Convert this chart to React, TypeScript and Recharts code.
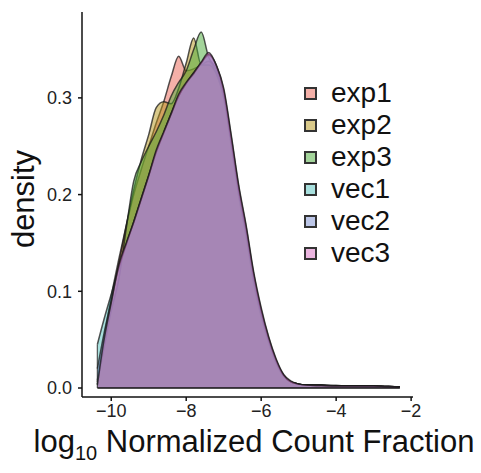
import { AreaChart, Area, XAxis, YAxis, Legend, Label, ReferenceLine } from 'recharts'

const xs = [-10.37, -10.2, -10.0, -9.8, -9.6, -9.4, -9.2, -9.0, -8.8, -8.6, -8.4, -8.2, -8.0, -7.8, -7.6, -7.4, -7.2, -7.0, -6.8, -6.6, -6.4, -6.2, -6.0, -5.8, -5.6, -5.4, -5.2, -5.0, -4.8, -4.4, -4.0, -3.5, -3.0, -2.6, -2.3]

const exp1 = [0.008, 0.05, 0.095, 0.133, 0.168, 0.2, 0.226, 0.25, 0.274, 0.296, 0.322, 0.343, 0.328, 0.33, 0.334, 0.338, 0.326, 0.3, 0.25, 0.198, 0.156, 0.108, 0.073, 0.046, 0.025, 0.012, 0.006, 0.004, 0.003, 0.003, 0.0025, 0.002, 0.002, 0.0015, 0.001]
const exp2 = [0.006, 0.045, 0.09, 0.128, 0.168, 0.205, 0.236, 0.262, 0.29, 0.296, 0.294, 0.31, 0.336, 0.362, 0.334, 0.334, 0.325, 0.3, 0.252, 0.2, 0.158, 0.11, 0.075, 0.048, 0.026, 0.012, 0.006, 0.004, 0.003, 0.003, 0.0025, 0.002, 0.002, 0.0015, 0.001]
const exp3 = [0.004, 0.04, 0.08, 0.112, 0.165, 0.214, 0.234, 0.25, 0.265, 0.282, 0.302, 0.316, 0.328, 0.35, 0.368, 0.342, 0.33, 0.304, 0.256, 0.204, 0.162, 0.115, 0.078, 0.05, 0.028, 0.013, 0.006, 0.004, 0.003, 0.003, 0.002, 0.002, 0.0015, 0.0015, 0.001]
const vec1 = [0.045, 0.07, 0.097, 0.124, 0.148, 0.172, 0.196, 0.22, 0.244, 0.264, 0.284, 0.302, 0.315, 0.326, 0.336, 0.344, 0.333, 0.306, 0.256, 0.205, 0.163, 0.116, 0.079, 0.05, 0.028, 0.013, 0.006, 0.004, 0.003, 0.0025, 0.002, 0.002, 0.002, 0.0015, 0.001]
const vec2 = [0.02, 0.055, 0.09, 0.125, 0.149, 0.171, 0.195, 0.219, 0.244, 0.264, 0.283, 0.302, 0.315, 0.325, 0.336, 0.345, 0.334, 0.308, 0.26, 0.208, 0.166, 0.118, 0.081, 0.052, 0.029, 0.013, 0.006, 0.004, 0.003, 0.0025, 0.002, 0.002, 0.002, 0.0015, 0.001]
const vec3 = [0.003, 0.048, 0.088, 0.127, 0.15, 0.172, 0.196, 0.22, 0.246, 0.265, 0.284, 0.304, 0.316, 0.326, 0.337, 0.347, 0.334, 0.31, 0.262, 0.21, 0.168, 0.12, 0.083, 0.053, 0.03, 0.014, 0.007, 0.004, 0.003, 0.0025, 0.002, 0.002, 0.002, 0.0015, 0.001]

const groups = ['exp1', 'exp2', 'exp3', 'vec1', 'vec2', 'vec3']
const colors = ['#E96151', '#B39315', '#47A935', '#51C1BD', '#7A8ECF', '#D86CBF']
const xTicks = [-10, -8, -6, -4, -2]
const yTicks = [0, 0.1, 0.2, 0.3]

const series = [exp1, exp2, exp3, vec1, vec2, vec3]
const data = xs.map((x, i) => {
  const row: Record<string, number> = { x }
  groups.forEach((g, j) => { row[g] = series[j][i] })
  return row
})

const font = '"Liberation Sans", Arial, Helvetica, sans-serif'

const fmtX = (v: number) => (v < 0 ? '\u2212' + Math.abs(v) : String(v))

function LegendBox() {
  return (
    <div style={{ fontFamily: font, fontSize: 28, color: '#111' }}>
      {groups.map((g, i) => (
        <div key={g} style={{ display: 'flex', alignItems: 'center', height: 32 }}>
          <div style={{ width: 13, height: 13, boxSizing: 'border-box', border: '2px solid #333', background: 'white', position: 'relative', marginRight: 14 }}>
            <div style={{ position: 'absolute', inset: 0, background: colors[i], opacity: 0.5 }} />
          </div>
          <span style={{ lineHeight: '32px' }}>{g}</span>
        </div>
      ))}
    </div>
  )
}

export default function App() {
  const firstMax = Math.max(...series.map(s => s[0]))
  return (
    <div style={{ position: 'absolute', left: 0, top: 0, background: 'white' }}>
      <AreaChart width={481} height={473} data={data} margin={{ top: 12, right: 68, bottom: 0, left: 0 }}>
        <XAxis
          dataKey="x"
          type="number"
          domain={[-10.78, -1.95]}
          allowDataOverflow
          ticks={xTicks}
          tickFormatter={fmtX}
          height={76}
          tickSize={4}
          tickMargin={3}
          stroke="#111"
          strokeWidth={1.5}
          tick={{ fill: '#222', fontSize: 18, fontFamily: font }}
        >
          <Label
            content={() => (
              <text x={254} y={452} textAnchor="middle" fill="#111" fontFamily={font} fontSize={31}>
                <tspan>log</tspan>
                <tspan fontSize={20} dy={8}>10</tspan>
                <tspan dy={-8}> Normalized Count Fraction</tspan>
              </text>
            )}
          />
        </XAxis>
        <YAxis
          type="number"
          domain={[-0.0093, 0.3888]}
          allowDataOverflow
          ticks={yTicks}
          tickFormatter={(v: number) => v.toFixed(1)}
          width={82}
          tickSize={4}
          tickMargin={6}
          stroke="#111"
          strokeWidth={1.5}
          tick={{ fill: '#222', fontSize: 18, fontFamily: font }}
        >
          <Label
            content={() => (
              <text x={34} y={199} transform="rotate(-90 34 199)" textAnchor="middle" fill="#111" fontFamily={font} fontSize={31}>
                density
              </text>
            )}
          />
        </YAxis>
        {groups.map((g, i) => (
          <Area
            key={g}
            dataKey={g}
            type="monotone"
            fill={colors[i]}
            fillOpacity={0.5}
            stroke="#1a1a1a"
            strokeOpacity={0.75}
            strokeWidth={1.5}
            dot={false}
            activeDot={false}
            isAnimationActive={false}
          />
        ))}
        <ReferenceLine segment={[{ x: xs[0], y: 0 }, { x: xs[xs.length - 1], y: 0 }]} stroke="#111" strokeWidth={1.6} />
        <ReferenceLine segment={[{ x: xs[0], y: 0 }, { x: xs[0], y: firstMax }]} stroke="#222" strokeOpacity={0.7} strokeWidth={1.3} />
        <Legend
          layout="vertical"
          align="center"
          verticalAlign="middle"
          content={() => <LegendBox />}
          wrapperStyle={{ left: 304, top: 77, width: 150 }}
        />
      </AreaChart>
    </div>
  )
}
